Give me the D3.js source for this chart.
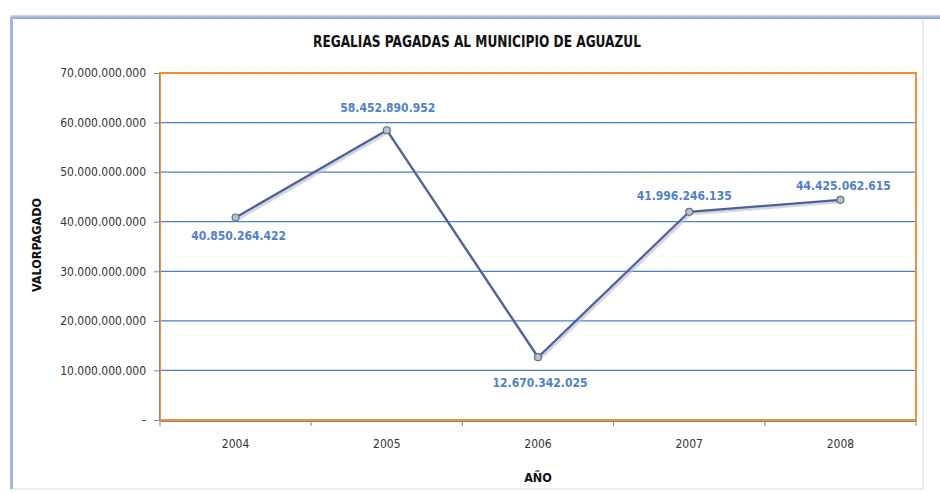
<!DOCTYPE html>
<html>
<head>
<meta charset="utf-8">
<script src="https://cdn.jsdelivr.net/npm/d3@7"></script>
<style>
  body { margin: 0; background: #fff; }
  svg { display: block; }
  .narrow { font-family: "DejaVu Sans Condensed", "Liberation Sans Narrow", sans-serif; }
</style>
</head>
<body>
<svg width="940" height="493"></svg>
<script>
var years = ["2004", "2005", "2006", "2007", "2008"];
var values = [40850264422, 58452890952, 12670342025, 41996246135, 44425062615];
var labels = ["40.850.264.422", "58.452.890.952", "12.670.342.025", "41.996.246.135", "44.425.062.615"];
var labelDx = [3, 1, 2, -5, 3];
var labelDy = [23, -18, 30, -12, -10];
var yTicks = [0, 10e9, 20e9, 30e9, 40e9, 50e9, 60e9, 70e9];

var svg = d3.select("svg");
var plotLeft = 160, plotRight = 916, plotTop = 73, plotBottom = 420;

// outer frame
var defs = svg.append("defs");
var g1 = defs.append("linearGradient").attr("id", "topband").attr("x1", 0).attr("x2", 0).attr("y1", 0).attr("y2", 1);
g1.append("stop").attr("offset", "0%").attr("stop-color", "#c9d8ee");
g1.append("stop").attr("offset", "100%").attr("stop-color", "#7f9fd0");
svg.append("rect").attr("x", 11).attr("y", 17).attr("width", 912).attr("height", 472)
  .attr("fill", "#fff").attr("stroke", "#d4dbe6").attr("stroke-width", 1);
svg.append("rect").attr("x", 11).attr("y", 15).attr("width", 929).attr("height", 4).attr("fill", "url(#topband)");
svg.append("rect").attr("x", 10).attr("y", 17).attr("width", 3).attr("height", 472).attr("fill", "#9fb7de");

var x = d3.scaleBand().domain(years).range([plotLeft, plotRight]);
var y = d3.scaleLinear().domain([0, 70e9]).range([plotBottom, plotTop]);

// gridlines
svg.append("g").selectAll("line").data(yTicks.slice(1, -1)).enter().append("line")
  .attr("x1", plotLeft).attr("x2", plotRight)
  .attr("y1", function (d) { return y(d); }).attr("y2", function (d) { return y(d); })
  .attr("stroke", "#4a7fcb").attr("stroke-width", 1.2);

// plot border
svg.append("rect").attr("x", plotLeft).attr("y", plotTop).attr("width", plotRight - plotLeft).attr("height", plotBottom - plotTop)
  .attr("fill", "none").attr("stroke", "#f0913a").attr("stroke-width", 2);

// y axis
var yAxis = d3.axisLeft(y).tickValues(yTicks).tickSize(5).tickPadding(8)
  .tickFormat(function (d) { return d == 0 ? "-" : d3.format(",")(d).replace(/,/g, "."); });
var ya = svg.append("g").attr("transform", "translate(" + (plotLeft - 1) + ",0)").call(yAxis);
ya.select(".domain").attr("stroke", "#888");
ya.selectAll(".tick line").attr("stroke", "#888");
ya.selectAll("text").attr("class", "narrow").style("font-size", "12px").attr("fill", "#333");

// x axis
var xAxis = d3.axisBottom(x).tickSize(0).tickPadding(18);
var xa = svg.append("g").attr("transform", "translate(0," + (plotBottom + 1) + ")").call(xAxis);
xa.select(".domain").attr("stroke", "#888");
xa.selectAll("text").attr("class", "narrow").style("font-size", "12px").attr("fill", "#333");
svg.append("g").selectAll("line").data(d3.range(years.length + 1)).enter().append("line")
  .attr("x1", function (i) { return plotLeft + i * x.step(); }).attr("x2", function (i) { return plotLeft + i * x.step(); })
  .attr("y1", plotBottom + 1).attr("y2", plotBottom + 6).attr("stroke", "#888");

// line with a soft shadow
var line = d3.line().x(function (d, i) { return x(years[i]) + x.bandwidth() / 2; }).y(function (d) { return y(d); });
svg.append("path").datum(values).attr("d", line).attr("fill", "none")
  .attr("stroke", "#b8bcc8").attr("stroke-width", 3).attr("transform", "translate(1.5,2)").attr("opacity", 0.6);
svg.append("path").datum(values).attr("d", line).attr("fill", "none")
  .attr("stroke", "#4e5f9c").attr("stroke-width", 2.2);

svg.append("g").selectAll("circle").data(values).enter().append("circle")
  .attr("cx", function (d, i) { return x(years[i]) + x.bandwidth() / 2; })
  .attr("cy", function (d) { return y(d); })
  .attr("r", 3.5).attr("fill", "#b9c3c6").attr("stroke", "#5d6f8a").attr("stroke-width", 1.2);

// data labels
svg.append("g").selectAll("text").data(values).enter().append("text")
  .attr("class", "narrow")
  .attr("x", function (d, i) { return x(years[i]) + x.bandwidth() / 2 + labelDx[i]; })
  .attr("y", function (d, i) { return y(d) + labelDy[i]; })
  .attr("text-anchor", "middle")
  .style("font-size", "12px").style("font-weight", "bold").attr("fill", "#4f81c7")
  .text(function (d, i) { return labels[i]; });

// titles
svg.append("text").attr("class", "narrow").attr("x", 477).attr("y", 47).attr("text-anchor", "middle")
  .attr("textLength", 328).attr("lengthAdjust", "spacingAndGlyphs")
  .style("font-size", "15px").style("font-weight", "bold").attr("fill", "#111")
  .text("REGALIAS PAGADAS AL MUNICIPIO DE AGUAZUL");
svg.append("text").attr("class", "narrow").attr("x", 538).attr("y", 482).attr("text-anchor", "middle")
  .style("font-size", "12.5px").style("font-weight", "bold").attr("fill", "#111").text("AÑO");
svg.append("text").attr("class", "narrow").attr("transform", "translate(41,245) rotate(-90)").attr("text-anchor", "middle")
  .style("font-size", "12.5px").style("font-weight", "bold").attr("fill", "#111").text("VALORPAGADO");
</script>
</body>
</html>
